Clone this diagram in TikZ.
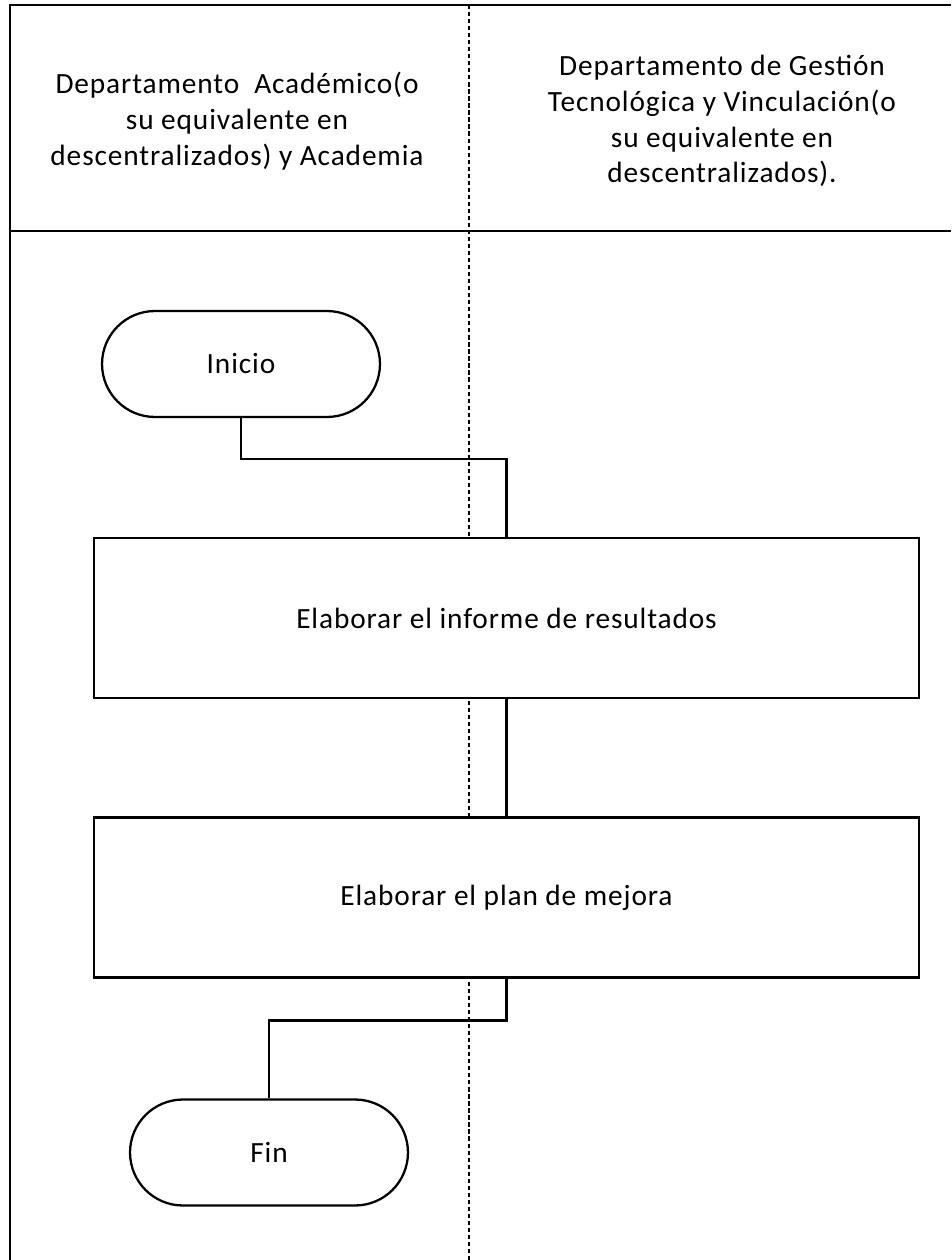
\documentclass[tikz,border=0pt]{standalone}
\usepackage{fontspec}
\setmainfont{Carlito}[LetterSpace=3]
\usepackage{tikz}
\usetikzlibrary{calc}

\begin{document}
\begin{tikzpicture}[x=0.02cm, y=-0.02cm, line width=1.3pt,
        font=\fontsize{16.7}{20.4}\selectfont,
        terminal/.style={draw, rectangle, rounded corners=1.06cm, minimum width=5.56cm, minimum height=2.12cm},
        proceso/.style={draw, rectangle, minimum width=16.5cm, minimum height=3.2cm},
        carril/.style={line width=1.4pt, dash pattern=on 2.4pt off 1.6pt}]
            \useasboundingbox (0, 0) rectangle (951, 1260);
            % carriles
            \draw (951, 5) -- (10, 5) -- (10, 1260);
            \draw (10, 231) -- (951, 231);
            \draw[carril] (469, 5) -- (469, 1260);
            \node[align=center] (deptoA) at (237, 121) {Departamento\ \ Académico(o\\su equivalente en\\descentralizados) y Academia};
            \node[align=center] (deptoB) at (722, 121) {Departamento de Gestión\\Tecnológica y Vinculación(o\\su equivalente en\\descentralizados).};
            % diagrama
            \node[terminal, fill=white] (inicio) at (241, 364) {Inicio};
            \node[proceso, fill=white] (informe) at (506.5, 618) {Elaborar el informe de resultados};
            \node[proceso, fill=white] (mejora) at (506.5, 897.5) {Elaborar el plan de mejora};
            \node[terminal, fill=white] (fin) at (269, 1152.5) {Fin};
            \draw (inicio.south) -- ++(0, 41) -| (informe.north);
            \draw (informe.south) -- (mejora.north);
            \draw (mejora.south) -- ++(0, 42) -| (fin.north);
        \end{tikzpicture}
\end{document}
